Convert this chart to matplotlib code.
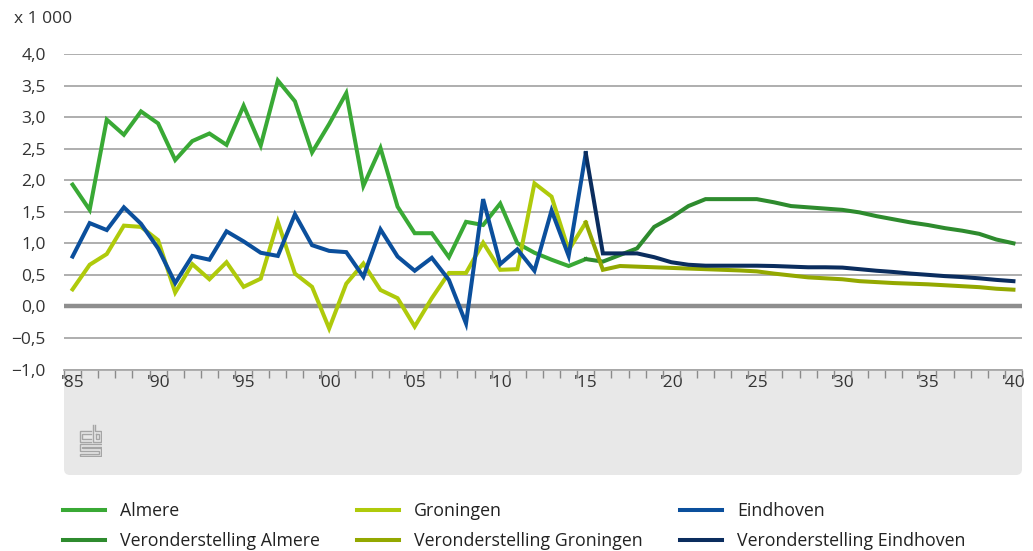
from __future__ import annotations

import matplotlib

matplotlib.use("Agg")
import matplotlib.pyplot as plt
from matplotlib.patches import FancyBboxPatch
from matplotlib.ticker import FuncFormatter, MultipleLocator

# observed 1985-2015
hist_years = list(range(1985, 2016))
almere = [1.93, 1.53, 2.96, 2.72, 3.09, 2.90, 2.32, 2.62, 2.74, 2.56, 3.18, 2.55, 3.58, 3.25, 2.44, 2.89,
          3.38, 1.91, 2.51, 1.58, 1.16, 1.16, 0.78, 1.34, 1.29, 1.63, 1.00, 0.85, 0.74, 0.64, 0.75]
groningen = [0.27, 0.66, 0.83, 1.28, 1.26, 1.05, 0.22, 0.67, 0.43, 0.70, 0.31, 0.44, 1.34, 0.52, 0.31, -0.35,
             0.36, 0.68, 0.26, 0.13, -0.32, 0.13, 0.53, 0.53, 1.01, 0.58, 0.59, 1.95, 1.74, 0.89, 1.33]
eindhoven = [0.79, 1.32, 1.21, 1.57, 1.31, 0.92, 0.37, 0.80, 0.74, 1.19, 1.03, 0.85, 0.80, 1.46, 0.97, 0.88,
             0.86, 0.47, 1.22, 0.79, 0.565, 0.77, 0.42, -0.27, 1.70, 0.67, 0.905, 0.565, 1.52, 0.80, 2.43]

# assumptions 2015-2040
proj_years = list(range(2015, 2041))
ver_almere = [0.75, 0.71, 0.815, 0.92, 1.26, 1.41, 1.59, 1.70, 1.70, 1.70, 1.70, 1.65, 1.59, 1.57, 1.55, 1.53,
              1.49, 1.43, 1.38, 1.33, 1.29, 1.24, 1.20, 1.15, 1.06, 1.00]
ver_groningen = [1.33, 0.58, 0.64, 0.63, 0.62, 0.61, 0.60, 0.59, 0.58, 0.57, 0.555, 0.52, 0.49, 0.46, 0.445,
                 0.43, 0.40, 0.385, 0.37, 0.36, 0.35, 0.335, 0.32, 0.305, 0.28, 0.265]
ver_eindhoven = [2.43, 0.84, 0.84, 0.84, 0.78, 0.70, 0.66, 0.645, 0.645, 0.645, 0.645, 0.64, 0.63, 0.62, 0.62,
                 0.615, 0.59, 0.565, 0.545, 0.52, 0.50, 0.48, 0.465, 0.445, 0.42, 0.40]

label_years = list(range(1985, 2041, 5))

W, H = 1033, 551
FONT = "Open Sans"
TEXT = "#333333"

fig = plt.figure(figsize=(W / 100, H / 100), dpi=100)


def px(left, top, width, height):
    return [left / W, 1 - (top + height) / H, width / W, height / H]


# grey footer panel under the x axis
panel = fig.add_axes(px(64, 340, 958, 135), zorder=0)
panel.set_xlim(0, 958)
panel.set_ylim(0, 135)
panel.axis("off")
panel.add_patch(FancyBboxPatch((0, 0), 958, 135, boxstyle="round,pad=0,rounding_size=6",
                               facecolor="#e8e8e8", edgecolor="none"))

# cbs logo, rough strokes
logo = fig.add_axes(px(79, 424, 23, 33), zorder=2)
logo.set_xlim(18, 92)
logo.set_ylim(112, 10)
logo.axis("off")
logo_strokes = [
    [(55, 32), (20, 32), (20, 65), (55, 65)],
    [(55, 40), (28, 40), (28, 57), (55, 57)],
    [(62, 12), (62, 65), (90, 65), (90, 32), (70, 32), (70, 12)],
    [(72, 42), (82, 42), (82, 55), (72, 55), (72, 42)],
    [(90, 72), (20, 72), (20, 92), (82, 92), (82, 102), (20, 102), (20, 110), (90, 110), (90, 84), (28, 84),
     (28, 80), (90, 80)],
]
for stroke in logo_strokes:
    xs, ys = zip(*stroke)
    logo.plot(xs, ys, color="#a5a5a5", lw=1.0, solid_joinstyle="miter")

ax = fig.add_axes(px(64, 54, 958, 315.5), zorder=1)
ax.set_facecolor("white")

series = [
    (hist_years, almere, "#39a935", "Almere"),
    (hist_years, groningen, "#afca0b", "Groningen"),
    (hist_years, eindhoven, "#0b4f9c", "Eindhoven"),
    (proj_years, ver_almere, "#2e8b2e", "Veronderstelling Almere"),
    (proj_years, ver_groningen, "#93a800", "Veronderstelling Groningen"),
    (proj_years, ver_eindhoven, "#0b2d5e", "Veronderstelling Eindhoven"),
]
lines = {}
for xs, ys, color, label in series:
    (line,) = ax.plot(xs, ys, color=color, lw=2.9, label=label, solid_joinstyle="miter", zorder=3)
    lines[label] = line

ax.set_xlim(1984.5, 2040.5)
ax.set_ylim(-1, 4)
ax.yaxis.set_major_locator(MultipleLocator(0.5))
ax.yaxis.set_major_formatter(FuncFormatter(lambda v, _: f"{v:.1f}".replace(".", ",").replace("-", "\u2212")))
ax.yaxis.grid(True, color="#a8a8a8", lw=1.3)
ax.axhline(0, color="#8e8e8e", lw=3.2, zorder=2)
ax.set_axisbelow(True)

ax.set_xticks(label_years)
ax.set_xticklabels([f"'{y % 100:02d}" for y in label_years])
ax.set_xticks([y - 0.5 for y in range(1985, 2042)], minor=True)
ax.tick_params(axis="x", which="major", length=0, pad=4, labelsize=12.5, labelcolor=TEXT)
ax.tick_params(axis="x", which="minor", length=6, width=1, color="#8a8a8a", direction="out")
ax.tick_params(axis="y", length=0, pad=13, labelsize=12.5, labelcolor=TEXT)
for lab in ax.get_xticklabels() + ax.get_yticklabels():
    lab.set_fontfamily(FONT)
for name in ("top", "right", "left"):
    ax.spines[name].set_visible(False)
ax.spines["bottom"].set_color("#a8a8a8")
ax.spines["bottom"].set_linewidth(1.3)

fig.text(14 / W, 1 - 19 / H, "x 1 000", fontsize=12.5, family=FONT, color=TEXT, va="center", ha="left")

order = ["Almere", "Veronderstelling Almere", "Groningen", "Veronderstelling Groningen",
         "Eindhoven", "Veronderstelling Eindhoven"]
fig.legend([lines[k] for k in order], order, ncol=3, loc="upper left",
           bbox_to_anchor=(63 / W, 1 - 502 / H), frameon=False, borderpad=0, borderaxespad=0,
           handlelength=2.36, handletextpad=0.85, columnspacing=2.1, labelspacing=0.68,
           prop={"family": FONT, "size": 12.8}, labelcolor="#222222")

fig.savefig("out.png", dpi=100)
